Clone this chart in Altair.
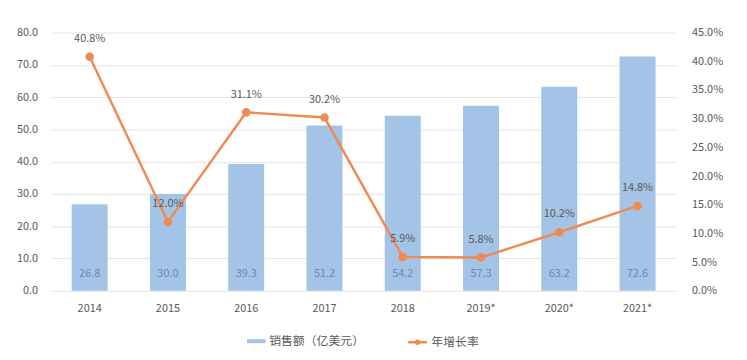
import altair as alt
import pandas as pd

years = ["2014", "2015", "2016", "2017", "2018", "2019*", "2020*", "2021*"]
sales = [26.8, 30.0, 39.3, 51.2, 54.2, 57.3, 63.2, 72.6]
growth = [40.8, 12.0, 31.1, 30.2, 5.9, 5.8, 10.2, 14.8]
sales_name = "销售额（亿美元）"
growth_name = "年增长率"

df = pd.DataFrame({
    "year": years,
    "sales": sales,
    "growth": [g / 100 for g in growth],
    "sales_label": [f"{v:.1f}" for v in sales],
    "growth_label": [f"{v:.1f}%" for v in growth],
    "s_series": sales_name,
    "g_series": growth_name,
})

FONT = "Noto Sans CJK SC"
GRAY = "#595959"
BLUE = "#A3C4E6"
ORANGE = "#EF8B52"

x = alt.X("year:N", sort=years, title=None,
          scale=alt.Scale(paddingInner=0.54, paddingOuter=0.27),
          axis=alt.Axis(labelAngle=0, ticks=False, domain=False, labelPadding=12,
                        labelColor=GRAY, labelFontSize=11, labelFont=FONT))

left_axis = alt.Axis(values=list(range(0, 81, 10)), format=".1f", ticks=False,
                     domain=False, labelPadding=13, grid=True, gridColor="#E4E4E4",
                     labelColor=GRAY, labelFontSize=11, labelFont=FONT)
left_scale = alt.Scale(domain=[0, 80])

right_axis = alt.Axis(orient="right", values=[i * 0.05 for i in range(10)], format=".1%",
                      ticks=False, domain=False, grid=False, labelPadding=15,
                      labelColor=GRAY, labelFontSize=11, labelFont=FONT)
right_scale = alt.Scale(domain=[0, 0.45])

bars = alt.Chart(df).mark_bar(color=BLUE).encode(
    x=x,
    y=alt.Y("sales:Q", title=None, scale=left_scale, axis=left_axis),
    fill=alt.Fill("s_series:N", scale=alt.Scale(domain=[sales_name], range=[BLUE]),
                  legend=alt.Legend(title=None, orient="none", legendX=201, legendY=305,
                                    symbolType="M-1.4,-0.3H1.4V0.3H-1.4Z", symbolSize=180,
                                    labelFont=FONT, labelFontSize=12, labelColor=GRAY,
                                    symbolStrokeWidth=0, labelOffset=6)),
)

bar_text = alt.Chart(df).transform_calculate(zero="5.2").mark_text(
    color="#6E8AAE", fontSize=11, font=FONT, baseline="middle").encode(
    x=x,
    y=alt.Y("zero:Q", title=None, scale=left_scale, axis=left_axis),
    text="sales_label:N",
)

line = alt.Chart(df).mark_line(strokeWidth=2.5, point=alt.OverlayMarkDef(filled=True, size=45, color=ORANGE)).encode(
    x=x,
    y=alt.Y("growth:Q", title=None, scale=right_scale, axis=right_axis),
    stroke=alt.Stroke("g_series:N", scale=alt.Scale(domain=[growth_name], range=[ORANGE]),
                      legend=alt.Legend(title=None, orient="none", legendX=363, legendY=305,
                                        symbolType="M-1.4,0H1.4M0.22,0A0.22,0.22 0 1,1 -0.22,0A0.22,0.22 0 1,1 0.22,0Z",
                                        symbolSize=180, symbolStrokeWidth=2.5,
                                        symbolFillColor=ORANGE, labelOffset=6,
                                        labelFont=FONT, labelFontSize=12, labelColor=GRAY)),
)

line_text = alt.Chart(df).mark_text(color=GRAY, fontSize=11, font=FONT, dy=-18).encode(
    x=x,
    y=alt.Y("growth:Q", title=None, scale=right_scale, axis=right_axis),
    text="growth_label:N",
)

left = alt.layer(bars, bar_text)
right = alt.layer(line, line_text)

chart = alt.layer(left, right).resolve_scale(y="independent", fill="independent", stroke="independent").properties(
    width=633, height=261,
    autosize=alt.AutoSizeParams(type="none"),
    padding={"left": 43, "top": 23, "right": 63, "bottom": 60},
    background="white",
).configure_view(stroke=None)

chart.save("out.html", embed_options={"renderer": "svg", "actions": False})
